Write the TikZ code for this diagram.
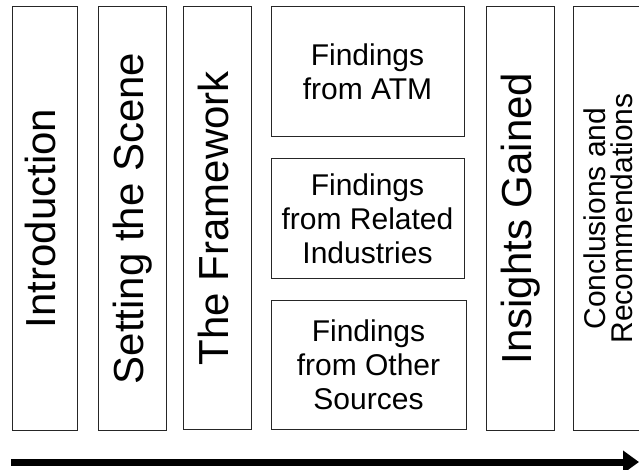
\documentclass[tikz,border=0pt]{standalone}
\usepackage{fontspec}
\setmainfont{Liberation Sans}
\usetikzlibrary{arrows.meta}
\tikzset{
  box/.style={draw=black!85, line width=1pt, inner sep=0pt, fill=white},
  vtext/.style={rotate=90, inner sep=0pt, font=\fontsize{42}{50}\selectfont, text height=22pt, text depth=0pt},
  htext/.style={inner sep=0pt, align=center, font=\fontsize{30}{34}\selectfont},
  ctext/.style={rotate=90, inner sep=0pt, align=center, font=\fontsize{30}{27}\selectfont},
  flow/.style={line width=7pt, -{Triangle[length=16pt,width=22pt]}}
}
\begin{document}
\begin{tikzpicture}[x=1pt,y=-1pt]
\useasboundingbox (0,0) rectangle (639,470);
\clip (0,0) rectangle (639,470);
% boxes
\node[box, minimum width=65pt, minimum height=423pt] (intro) at (44.5,218.5) {};
\node[box, minimum width=68pt, minimum height=423pt] (scene) at (132,218.5) {};
\node[box, minimum width=68pt, minimum height=423pt] (frame) at (217,218) {};
\node[box, minimum width=193pt, minimum height=130pt] (atm) at (367.5,72) {};
\node[box, minimum width=193pt, minimum height=119pt] (rel) at (367.5,218.5) {};
\node[box, minimum width=195pt, minimum height=129pt] (oth) at (368.5,364.5) {};
\node[box, minimum width=68pt, minimum height=423pt] (ins) at (520,218.5) {};
\node[box, minimum width=76pt, minimum height=423pt] (conc) at (611,218.5) {};
% texts
\node[vtext] (tintro) at (intro.center) {Introduction};
\node[vtext] (tscene) at (scene.center) {Setting the Scene};
\node[vtext] (tframe) at (frame.center) {The Framework};
\node[vtext] (tins) at (ins.center) {Insights Gained};
\node[htext] (tatm) at (atm.center) {Findings\\from ATM};
\node[htext] (trel) at (rel.center) {Findings\\from Related\\Industries};
\node[htext] (toth) at (oth.center) {Findings\\from Other\\Sources};
\node[ctext] (tconc) at (608,218.5) {Conclusions and\\Recommendations};
% arrow
\coordinate (as) at (11,462);
\coordinate (ae) at (639,462);
\draw[flow] (as) -- (ae);
\end{tikzpicture}
\end{document}
